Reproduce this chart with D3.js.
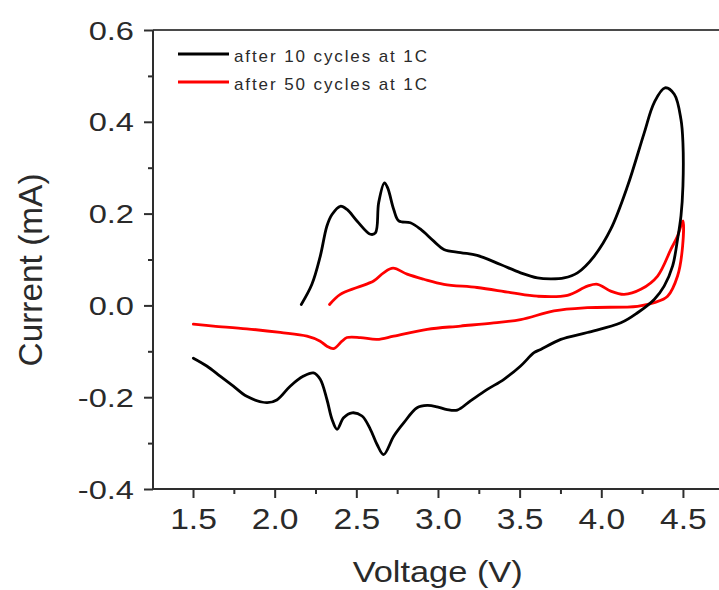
<!DOCTYPE html>
<html>
<head>
<meta charset="utf-8">
<script src="https://cdn.jsdelivr.net/npm/d3@7/dist/d3.min.js"></script>
<style>
  html, body { margin: 0; padding: 0; background: #fff; }
  svg { display: block; }
  text { font-family: "Liberation Sans", Arial, Helvetica, sans-serif; fill: #2a2a2a; }
</style>
</head>
<body>
<svg id="chart" width="719" height="590"></svg>
<script>
// Cyclic voltammetry, after 10 and 50 cycles at 1C.
// Each loop starts on the anodic sweep and returns on the cathodic sweep.
const cycle10Voltage = [2.163, 2.228, 2.279, 2.320, 2.351, 2.402, 2.443, 2.504, 2.586, 2.617, 2.637, 2.672, 2.692, 2.729, 2.760, 2.831, 2.893, 2.974, 3.036, 3.138, 3.240, 3.383, 3.506, 3.609, 3.690, 3.772, 3.854, 3.956, 4.058, 4.161, 4.263, 4.324, 4.390, 4.447, 4.488, 4.500, 4.500, 4.488, 4.467, 4.437, 4.385, 4.324, 4.222, 4.120, 3.915, 3.752, 3.629, 3.588, 3.506, 3.404, 3.302, 3.199, 3.118, 3.056, 2.995, 2.934, 2.872, 2.790, 2.729, 2.667, 2.627, 2.586, 2.535, 2.474, 2.422, 2.382, 2.351, 2.320, 2.279, 2.238, 2.177, 2.095, 2.013, 1.952, 1.829, 1.747, 1.666, 1.584, 1.502];
const cycle10Current = [0.002, 0.046, 0.107, 0.173, 0.198, 0.216, 0.209, 0.184, 0.155, 0.158, 0.224, 0.267, 0.256, 0.209, 0.184, 0.180, 0.166, 0.140, 0.122, 0.115, 0.109, 0.089, 0.071, 0.060, 0.058, 0.060, 0.071, 0.107, 0.166, 0.260, 0.376, 0.442, 0.474, 0.460, 0.405, 0.354, 0.260, 0.195, 0.144, 0.086, 0.042, 0.013, -0.016, -0.038, -0.059, -0.074, -0.096, -0.103, -0.132, -0.161, -0.183, -0.208, -0.228, -0.227, -0.221, -0.218, -0.223, -0.256, -0.285, -0.325, -0.303, -0.270, -0.241, -0.234, -0.245, -0.270, -0.248, -0.205, -0.161, -0.147, -0.154, -0.176, -0.206, -0.212, -0.198, -0.176, -0.154, -0.132, -0.115];

const cycle50Voltage = [2.336, 2.402, 2.504, 2.606, 2.667, 2.725, 2.811, 2.913, 3.036, 3.240, 3.445, 3.609, 3.793, 3.915, 3.977, 4.058, 4.140, 4.242, 4.345, 4.426, 4.467, 4.500, 4.498, 4.467, 4.406, 4.324, 4.222, 3.915, 3.710, 3.506, 3.342, 3.138, 2.934, 2.729, 2.627, 2.525, 2.443, 2.412, 2.361, 2.320, 2.279, 2.198, 2.034, 1.829, 1.625, 1.502];
const cycle50Current = [0.002, 0.024, 0.039, 0.053, 0.071, 0.081, 0.068, 0.057, 0.046, 0.039, 0.028, 0.020, 0.022, 0.042, 0.046, 0.031, 0.024, 0.035, 0.064, 0.122, 0.151, 0.184, 0.129, 0.064, 0.020, 0.006, -0.002, -0.005, -0.012, -0.031, -0.038, -0.045, -0.052, -0.067, -0.074, -0.070, -0.070, -0.078, -0.094, -0.089, -0.078, -0.067, -0.059, -0.051, -0.045, -0.041];

const seriesNames = ["after 10 cycles at 1C", "after 50 cycles at 1C"];
const seriesColors = ["#000000", "#ff0000"];

const xTicks = [1.5, 2.0, 2.5, 3.0, 3.5, 4.0, 4.5];
const xMinorTicks = [1.75, 2.25, 2.75, 3.25, 3.75, 4.25];
const yTicks = [-0.4, -0.2, 0.0, 0.2, 0.4, 0.6];
const yMinorTicks = [-0.3, -0.1, 0.1, 0.3, 0.5];

const xTitle = "Voltage (V)";
const yTitle = "Current (mA)";

const svg = d3.select("#chart");
const plotLeft = 153, plotTop = 30, plotBottom = 489, plotRight = 720.5;

const x = d3.scaleLinear().domain([1.255, 4.73]).range([plotLeft, plotRight]);
const y = d3.scaleLinear().domain([-0.4, 0.6]).range([plotBottom, plotTop]);

const axisColor = "#2e2e2e";

// Frame line along the top
svg.append("line")
  .attr("x1", plotLeft).attr("x2", 719)
  .attr("y1", plotTop).attr("y2", plotTop)
  .attr("stroke", "#4a4a4a").attr("stroke-width", 2);

// Minor ticks
const gyMinor = svg.append("g").attr("transform", `translate(${plotLeft},0)`)
  .call(d3.axisLeft(y).tickValues(yMinorTicks).tickSize(5).tickSizeOuter(0).tickFormat(""));
const gxMinor = svg.append("g").attr("transform", `translate(0,${plotBottom})`)
  .call(d3.axisBottom(x).tickValues(xMinorTicks).tickSize(5).tickSizeOuter(0).tickFormat(""));
[gyMinor, gxMinor].forEach(g => {
  g.select(".domain").remove();
  g.selectAll("line").attr("stroke", axisColor).attr("stroke-width", 2);
});

// Major axes
const fmt = d => d.toFixed(1);
const gy = svg.append("g").attr("transform", `translate(${plotLeft},0)`)
  .call(d3.axisLeft(y).tickValues(yTicks).tickSize(9).tickSizeOuter(0).tickFormat(fmt));
const gx = svg.append("g").attr("transform", `translate(0,${plotBottom})`)
  .call(d3.axisBottom(x).tickValues(xTicks).tickSize(9).tickSizeOuter(0).tickFormat(fmt));

[gy, gx].forEach(g => {
  g.select(".domain").attr("stroke", axisColor).attr("stroke-width", 2);
  g.selectAll(".tick line").attr("stroke", axisColor).attr("stroke-width", 2);
});
gy.select(".domain").attr("d", `M0,${plotTop}V${plotBottom + 1}`);
gx.select(".domain").attr("d", `M${plotLeft - 1},0H719`);

gy.selectAll(".tick text")
  .attr("x", null).attr("dy", "0.36em")
  .attr("transform", "translate(-19,0) scale(1.28,1)")
  .style("font-size", "25.5px").attr("fill", "#2a2a2a");
gx.selectAll(".tick text")
  .attr("y", null).attr("dy", null)
  .attr("transform", "translate(0,40) scale(1.14,1)")
  .style("font-size", "29.5px").attr("fill", "#2a2a2a");

// Axis titles
svg.append("text")
  .attr("transform", "translate(437.7,582)")
  .attr("text-anchor", "middle")
  .attr("textLength", 170).attr("lengthAdjust", "spacingAndGlyphs")
  .style("font-size", "29px")
  .text(xTitle);

svg.append("text")
  .attr("transform", "translate(42,270) rotate(-90) scale(1,1.15)")
  .attr("text-anchor", "middle")
  .attr("textLength", 193).attr("lengthAdjust", "spacingAndGlyphs")
  .style("font-size", "29px")
  .text(yTitle);

// Curves
const series = [
  d3.zip(cycle10Voltage, cycle10Current),
  d3.zip(cycle50Voltage, cycle50Current)
];
const line = d3.line()
  .x(d => x(d[0]))
  .y(d => y(d[1]))
  .curve(d3.curveCatmullRom.alpha(0.5));

// draw red first so black sits on top where they cross
[1, 0].forEach(k => {
  svg.append("path")
    .datum(series[k])
    .attr("d", line)
    .attr("fill", "none")
    .attr("stroke", seriesColors[k])
    .attr("stroke-width", 2.8)
    .attr("stroke-linejoin", "round")
    .attr("stroke-linecap", "round");
});

// Legend
const legendY = [54, 82];
seriesNames.forEach((name, k) => {
  svg.append("line")
    .attr("x1", 178).attr("x2", 229)
    .attr("y1", legendY[k]).attr("y2", legendY[k])
    .attr("stroke", seriesColors[k]).attr("stroke-width", 3.2);
  svg.append("text")
    .attr("x", 234).attr("y", legendY[k] + 7.5)
    .attr("textLength", 193).attr("lengthAdjust", "spacing")
    .style("font-size", "17px")
    .text(name);
});
</script>
</body>
</html>
